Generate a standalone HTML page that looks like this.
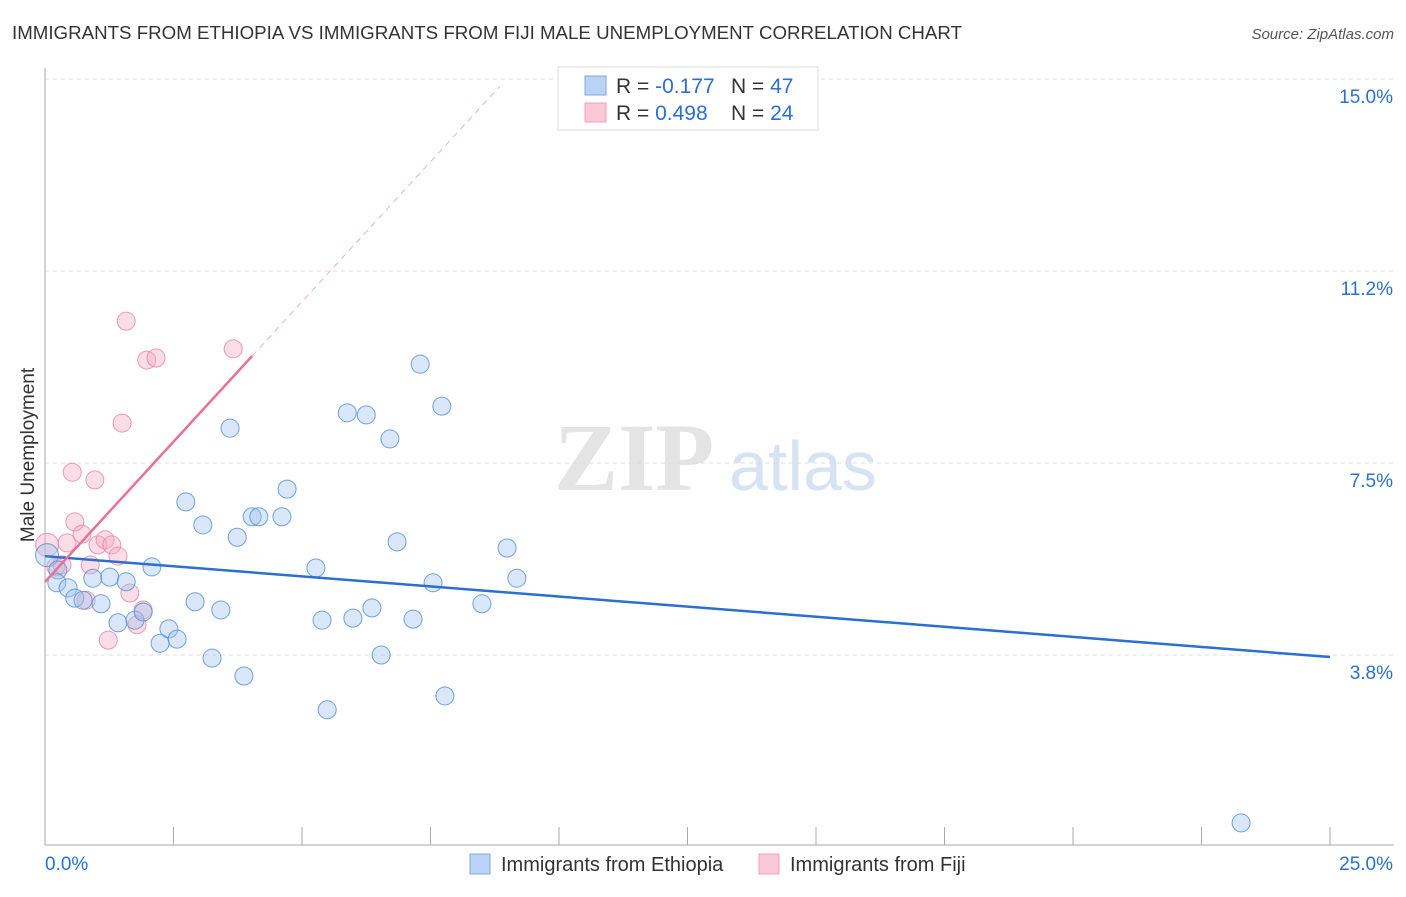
<!DOCTYPE html>
<html><head><meta charset="utf-8"><style>
body{margin:0;background:#fff;font-family:"Liberation Sans",sans-serif}
svg text{font-family:"Liberation Sans",sans-serif}
</style></head><body>
<svg id="chart" width="1406" height="892" xmlns="http://www.w3.org/2000/svg">
<text x="12" y="39" font-size="18" fill="#333" textLength="950" lengthAdjust="spacingAndGlyphs">IMMIGRANTS FROM ETHIOPIA VS IMMIGRANTS FROM FIJI MALE UNEMPLOYMENT CORRELATION CHART</text>
<text x="1394" y="39" font-size="15" fill="#555" font-style="italic" text-anchor="end">Source: ZipAtlas.com</text>
<g>
<text x="634" y="490" font-size="96" fill="#e4e4e4" text-anchor="middle" font-weight="bold" style="font-family:'Liberation Serif',serif">ZIP</text>
<text x="803" y="490" font-size="70" fill="#d6e3f3" text-anchor="middle">atlas</text>
</g>
<g id="grid"></g>
<g id="axes"></g>
<g id="marks"></g>
<g id="trends"></g>
<text transform="translate(34,455) rotate(-90)" font-size="19" fill="#333" text-anchor="middle">Male Unemployment</text>
<g>
<rect x="558" y="67" width="260" height="63" fill="#fff" stroke="#ddd"/>
<rect x="585" y="76" width="21" height="19" fill="#b9d2f5" stroke="#7fa8e0"/>
<rect x="585" y="103" width="21" height="19" fill="#f9c9d7" stroke="#eca2b8"/>
<text x="616" y="93" font-size="21" fill="#333">R = <tspan fill="#2a6fd1">-0.177</tspan></text>
<text x="731" y="93" font-size="21" fill="#333">N = <tspan fill="#2a6fd1">47</tspan></text>
<text x="616" y="120" font-size="21" fill="#333">R = <tspan fill="#2a6fd1"> 0.498</tspan></text>
<text x="731" y="120" font-size="21" fill="#333">N = <tspan fill="#2a6fd1">24</tspan></text>
</g>
<g>
<rect x="470" y="854" width="20" height="20" fill="#b9d2f5" stroke="#7fa8e0"/>
<text x="501" y="871" font-size="20" fill="#333">Immigrants from Ethiopia</text>
<rect x="759" y="854" width="20" height="20" fill="#f9c9d7" stroke="#eca2b8"/>
<text x="790" y="871" font-size="20" fill="#333">Immigrants from Fiji</text>
</g>
</svg>
<script>
const yTicks=[3.75,7.5,11.25,15];
const yTickLabels=["3.8%","7.5%","11.2%","15.0%"];
const ethX=[0.04,0.25,0.23,0.45,0.58,0.74,0.93,1.09,1.26,1.42,1.58,1.75,1.91,2.08,2.24,2.41,2.57,2.74,2.92,3.07,3.25,3.42,3.60,3.74,3.87,4.03,4.16,4.61,4.71,5.27,5.39,5.49,5.88,5.99,6.25,6.36,6.54,6.71,6.85,7.16,7.30,7.55,7.72,7.78,8.50,8.99,9.18,23.27];
const ethY=[5.70,5.41,5.16,5.06,4.86,4.82,5.25,4.75,5.27,4.38,5.18,4.43,4.59,5.47,3.98,4.26,4.06,6.74,4.79,6.29,3.69,4.63,8.18,6.05,3.34,6.45,6.45,6.45,6.99,5.45,4.43,2.68,8.48,4.47,8.44,4.67,3.75,7.97,5.96,4.45,9.43,5.16,8.61,2.95,4.75,5.84,5.25,0.47];
const fijiX=[0.04,0.21,0.33,0.43,0.53,0.58,0.72,0.80,0.88,0.97,1.03,1.17,1.23,1.30,1.42,1.50,1.58,1.65,1.79,1.91,1.98,2.16,3.66];
const fijiY=[5.90,5.47,5.51,5.94,7.32,6.35,6.11,4.82,5.51,7.17,5.90,6.00,4.04,5.90,5.68,8.28,10.27,4.96,4.34,4.63,9.51,9.55,9.73];
const ethTrend=[0,5.68,25,3.71];
const fijiTrend=[0,5.18,4.03,9.59];
const fijiDash=[4.03,9.59,8.85,14.86];
const X=v=>45+v*51.4, Y=v=>655-(v-3.75)*51.2;
const NS="http://www.w3.org/2000/svg";
function mk(p,t,a){const e=document.createElementNS(NS,t);for(const k in a)e.setAttribute(k,a[k]);p.appendChild(e);return e;}
const grid=document.getElementById('grid'),axes=document.getElementById('axes'),marks=document.getElementById('marks'),tr=document.getElementById('trends');
yTicks.forEach((t,i)=>{
 const l=mk(grid,'line',{x1:45,x2:1394,y1:Y(t),y2:Y(t),stroke:'#ddd','stroke-dasharray':'4,4'});
 
 
 const tx=mk(axes,'text',{x:1393,y:Y(t)+24,'font-size':19,fill:'#2a6fd1','text-anchor':'end'});
 tx.textContent=yTickLabels[i];
 
 
});
mk(axes,'line',{x1:45,x2:45,y1:68,y2:845,stroke:'#aaa'});
mk(axes,'line',{x1:45,x2:1394,y1:845,y2:845,stroke:'#aaa'});
for(let i=1;i<=10;i++){const x=X(i*2.5);const t=mk(axes,'line',{x1:x,x2:x,y1:827,y2:845,stroke:'#aaa'});}
const x0=mk(axes,'text',{x:45,y:870,'font-size':19,fill:'#2a6fd1'});x0.textContent="0.0%";

const x1=mk(axes,'text',{x:1393,y:870,'font-size':19,fill:'#2a6fd1','text-anchor':'end'});x1.textContent="25.0%";

fijiX.forEach((v,i)=>{const c=mk(marks,'circle',{cx:X(v),cy:Y(fijiY[i]),r:i==0?11.5:9,fill:'rgba(246,170,195,0.4)',stroke:'rgba(232,130,165,0.8)','stroke-width':1});
 
 });
ethX.forEach((v,i)=>{const c=mk(marks,'circle',{cx:X(v),cy:Y(ethY[i]),r:i==0?11.5:9,fill:'rgba(160,195,240,0.4)',stroke:'rgba(80,140,215,0.8)','stroke-width':1});
 
 });
const l1=mk(tr,'line',{x1:X(ethTrend[0]),y1:Y(ethTrend[1]),x2:X(ethTrend[2]),y2:Y(ethTrend[3]),stroke:'#2a6fd1','stroke-width':2.5});

const l2=mk(tr,'line',{x1:X(fijiTrend[0]),y1:Y(fijiTrend[1]),x2:X(fijiTrend[2]),y2:Y(fijiTrend[3]),stroke:'#e8719a','stroke-width':2.5});

const l3=mk(tr,'line',{x1:X(fijiDash[0]),y1:Y(fijiDash[1]),x2:X(fijiDash[2]),y2:Y(fijiDash[3]),stroke:'#ecb0c4','stroke-width':1,'stroke-dasharray':'6,5'});

</script>
</body></html>
